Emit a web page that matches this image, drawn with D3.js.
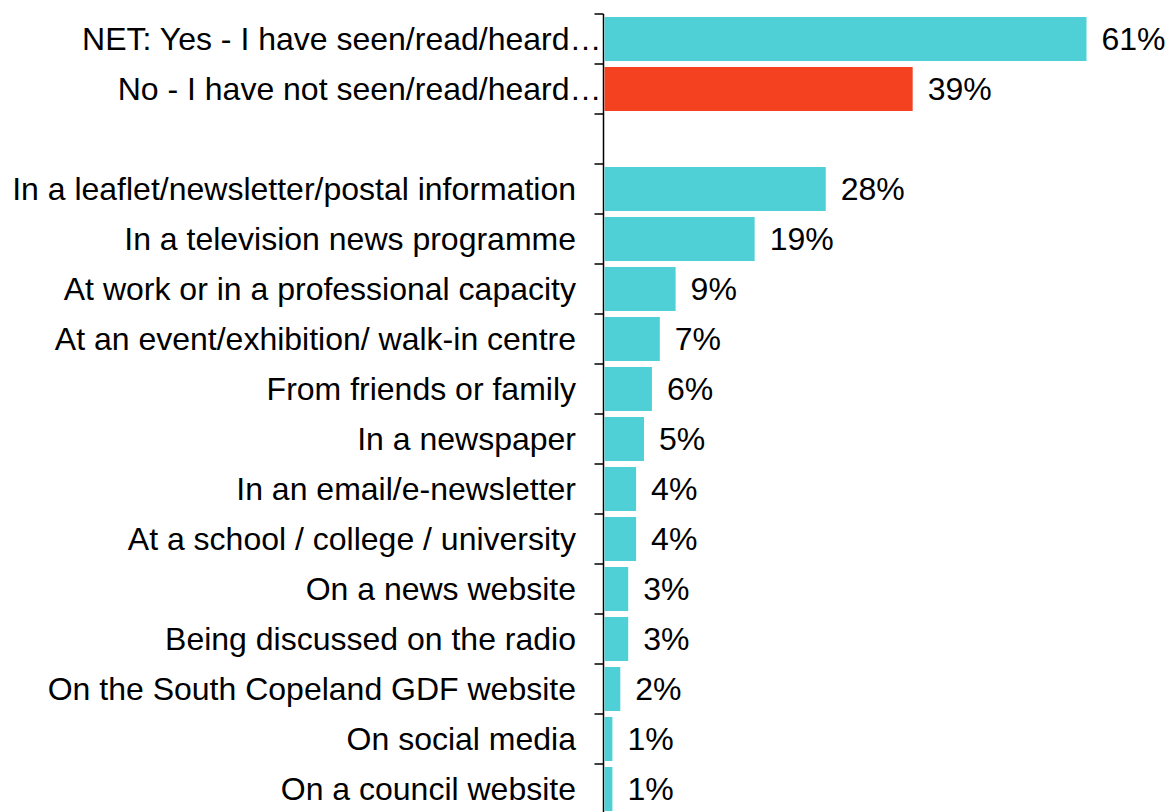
<!DOCTYPE html>
<html><head><meta charset="utf-8">
<script src="https://cdn.jsdelivr.net/npm/d3@7"></script>
<style>body{margin:0;background:#fff}svg{display:block}</style>
</head><body>
<svg id="chart" width="1172" height="812"></svg>
<script>
const categories = [
  "NET: Yes - I have seen/read/heard…",
  "No - I have not seen/read/heard…",
  "",
  "In a leaflet/newsletter/postal information",
  "In a television news programme",
  "At work or in a professional capacity",
  "At an event/exhibition/ walk-in centre",
  "From friends or family",
  "In a newspaper",
  "In an email/e-newsletter",
  "At a school / college / university",
  "On a news website",
  "Being discussed on the radio",
  "On the South Copeland GDF website",
  "On social media",
  "On a council website"
];
const values = [61, 39, null, 28, 19, 9, 7, 6, 5, 4, 4, 3, 3, 2, 1, 1];
const valueLabels = ["61%","39%","","28%","19%","9%","7%","6%","5%","4%","4%","3%","3%","2%","1%","1%"];
const barColors = ["#4ed0d6","#f44120",null,"#4ed0d6","#4ed0d6","#4ed0d6","#4ed0d6","#4ed0d6","#4ed0d6","#4ed0d6","#4ed0d6","#4ed0d6","#4ed0d6","#4ed0d6","#4ed0d6","#4ed0d6"];

const svg = d3.select("#chart");
const axisX = 603.5;
const x = d3.scaleLinear().domain([0, 61]).range([axisX + 1, 1086.5]);
const y = d3.scaleBand().domain(d3.range(categories.length)).range([14, 814]).paddingInner(0.12).paddingOuter(0.06);
const font = "Liberation Sans, Arial, sans-serif";
const fs = 32;

// axis line and ticks
const tickYs = d3.range(categories.length + 1).map(i => 14 + i * 50);
svg.append("line").attr("x1", axisX).attr("x2", axisX).attr("y1", 14).attr("y2", 812)
  .attr("stroke", "#000").attr("stroke-width", 1.5);
svg.selectAll(".tick").data(tickYs).join("line")
  .attr("x1", axisX - 9).attr("x2", axisX).attr("y1", d => d).attr("y2", d => d)
  .attr("stroke", "#000").attr("stroke-width", 1.5);

const rows = d3.range(categories.length);
svg.selectAll(".bar").data(rows.filter(i => values[i] != null)).join("rect")
  .attr("x", x(0)).attr("y", i => y(i))
  .attr("width", i => x(values[i]) - x(0)).attr("height", y.bandwidth())
  .attr("fill", i => barColors[i]);

svg.selectAll(".val").data(rows.filter(i => values[i] != null)).join("text")
  .attr("x", i => x(values[i]) + 15).attr("y", i => y(i) + y.bandwidth() / 2)
  .attr("dominant-baseline", "central")
  .attr("font-family", font).attr("font-size", fs).attr("fill", "#000")
  .text(i => valueLabels[i]);

svg.selectAll(".cat").data(rows).join("text")
  .attr("x", i => categories[i].endsWith("…") ? axisX - 2 : 576)
  .attr("y", i => y(i) + y.bandwidth() / 2)
  .attr("text-anchor", "end").attr("dominant-baseline", "central")
  .attr("font-family", font).attr("font-size", fs).attr("fill", "#000")
  .text(i => categories[i]);
</script>
</body></html>
